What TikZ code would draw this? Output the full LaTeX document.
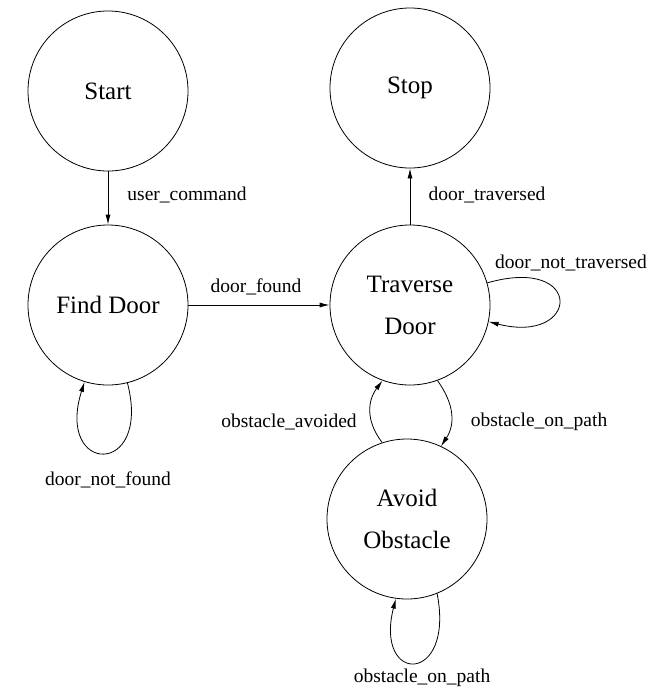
\documentclass[tikz,border=0pt]{standalone}
\usepackage{fontspec}
\setmainfont{Liberation Serif}
\usetikzlibrary{arrows.meta}

\tikzset{
  state/.style={draw,circle,line width=0.8pt,minimum size=160pt,inner sep=0pt,align=center,font=\fontsize{25}{42}\selectfont},
  trans/.style={line width=0.8pt,-{Latex[length=10pt,width=5pt]}},
  lbl/.style={inner sep=0pt,font=\fontsize{19.5}{22}\selectfont}
}

\begin{document}
\begin{tikzpicture}[x=1pt,y=-1pt]
\useasboundingbox (0,0) rectangle (657,689);
% states
\node[state] (start) at (108,91) {Start};
\node[state] (stop) at (410,88) {Stop};
\node[state] (finddoor) at (108,305) {Find Door};
\node[state] (traverse) at (410,305) {Traverse\\Door};
\node[state] (avoid) at (407,519) {Avoid\\Obstacle};
% transitions
\draw[trans] (start.south) -- (finddoor.north);
\draw[trans] (finddoor.east) -- (traverse.west);
\draw[trans] (traverse.north) -- (stop.south);
\draw[trans] (traverse.16) .. controls (585,255) and (580,345) .. (traverse.-12);
\draw[trans] (finddoor.-76) .. controls (152,478) and (55,475) .. (finddoor.-107);
\draw[trans] (traverse.-70) .. controls (455,405) and (455,425) .. (avoid.65);
\draw[trans] (avoid.108) .. controls (365,420) and (368,400) .. (traverse.-110);
\draw[trans] (avoid.-68) .. controls (455,685) and (374,685) .. (avoid.-98);
% labels
\node[lbl] (usercmd) at (187,195) {user\_command};
\node[lbl] (doortrav) at (487,195) {door\_traversed};
\node[lbl] (doorfound) at (256,287) {door\_found};
\node[lbl] (doornottrav) at (571,263) {door\_not\_traversed};
\node[lbl] (doornotfound) at (108,480) {door\_not\_found};
\node[lbl] (obsavoided) at (289,422) {obstacle\_avoided};
\node[lbl] (obsonpath) at (539,422) {obstacle\_on\_path};
\node[lbl] (obsonpathself) at (422,678) {obstacle\_on\_path};
\end{tikzpicture}
\end{document}
